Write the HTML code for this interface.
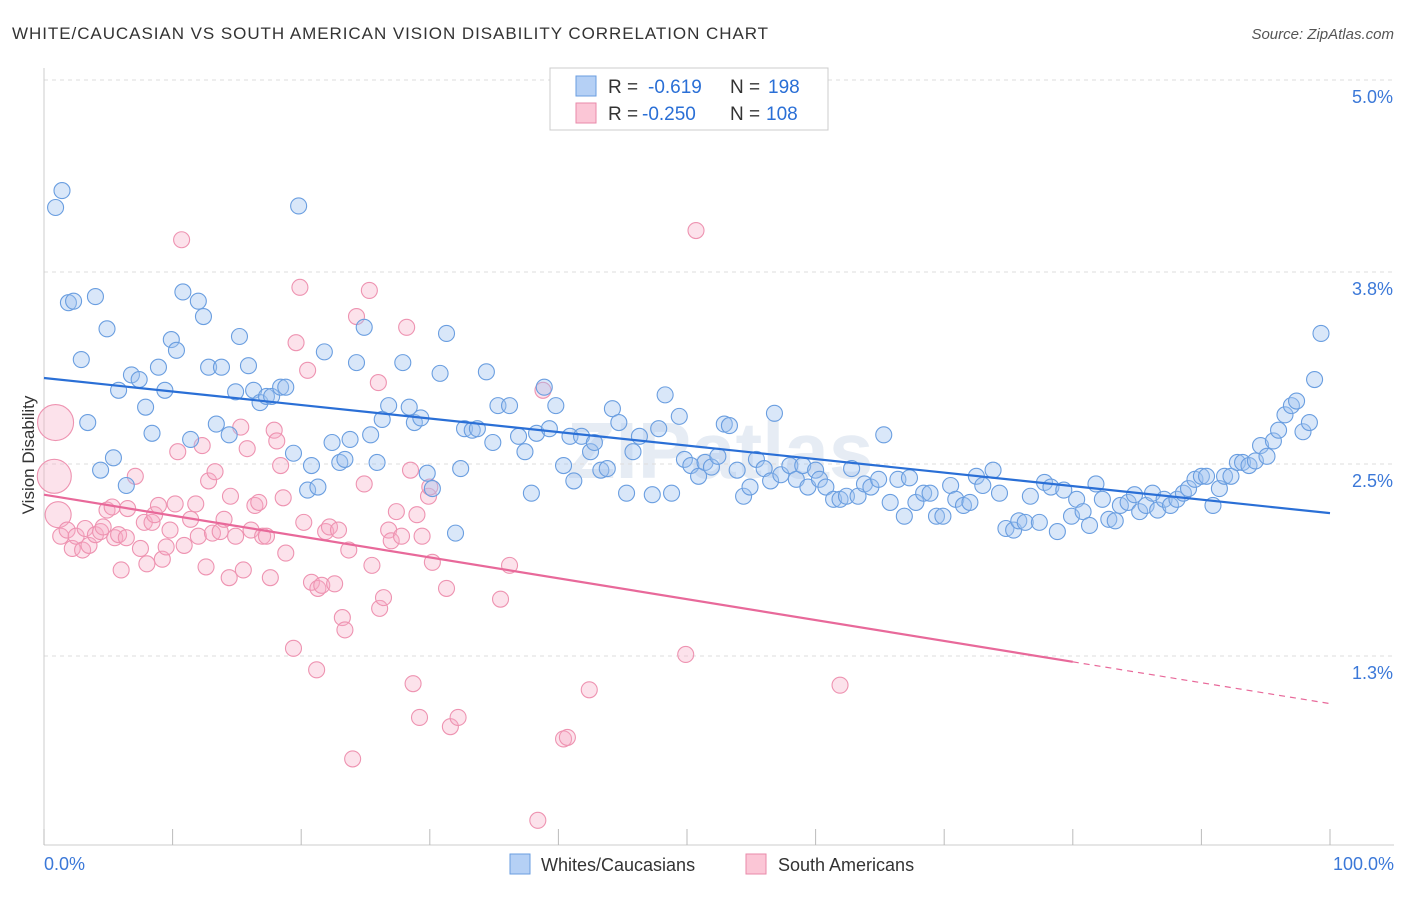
<!DOCTYPE html>
<html><head><meta charset="utf-8"><style>
body{margin:0;background:#fff;font-family:"Liberation Sans",sans-serif;}
svg text{font-family:"Liberation Sans",sans-serif;}
</style></head><body>
<svg id="chart" width="1406" height="892" xmlns="http://www.w3.org/2000/svg">
<text x="12" y="39" font-size="17" letter-spacing="0.95" fill="#333">WHITE/CAUCASIAN VS SOUTH AMERICAN VISION DISABILITY CORRELATION CHART</text>
<text x="1394" y="39" font-size="15" fill="#555" text-anchor="end" font-style="italic">Source: ZipAtlas.com</text>
<text x="34" y="455" font-size="17" fill="#333" text-anchor="middle" transform="rotate(-90 34 455)">Vision Disability</text>
<text x="720" y="478" font-size="80" fill="#e6ecf4" text-anchor="middle" font-weight="bold">ZIPatlas</text>
<g id="grid"></g><g id="pts"></g><g id="lines"></g>
<g>
<rect x="550" y="68" width="278" height="62" fill="#fff" stroke="#ccc"/>
<rect x="576" y="76" width="20" height="20" fill="#b5d0f5" stroke="#6a9ee0"/>
<rect x="576" y="103" width="20" height="20" fill="#fbc6d6" stroke="#e88aaa"/>
<text y="93" font-size="19" fill="#333"><tspan x="608">R =</tspan><tspan x="648" fill="#2a6fd6">-0.619</tspan><tspan x="730">N =</tspan><tspan x="768" fill="#2a6fd6">198</tspan></text>
<text y="120" font-size="19" fill="#333"><tspan x="608">R =</tspan><tspan x="642" fill="#2a6fd6">-0.250</tspan><tspan x="730">N =</tspan><tspan x="766" fill="#2a6fd6">108</tspan></text>
</g>
<g>
<rect x="510" y="854" width="20" height="20" fill="#b5d0f5" stroke="#6a9ee0"/>
<text x="541" y="871" font-size="18" fill="#333">Whites/Caucasians</text>
<rect x="746" y="854" width="20" height="20" fill="#fbc6d6" stroke="#e88aaa"/>
<text x="778" y="871" font-size="18" fill="#333">South Americans</text>
</g>
<text x="44" y="870" font-size="18" fill="#3b78d8">0.0%</text>
<text x="1394" y="870" font-size="18" fill="#3b78d8" text-anchor="end">100.0%</text>
</svg>
<script>
const yTicks=[5.0,3.75,2.5,1.25];
const yTickLabels=["5.0%","3.8%","2.5%","1.3%"];
const xTicks=[0,10,20,30,40,50,60,70,80,90,100];
const blueX=[1.4,0.9,1.9,2.3,4.0,4.9,2.9,3.4,4.4,6.4,5.4,5.8,6.8,7.4,7.9,8.4,8.9,9.4,9.9,10.3,10.8,11.4,12.0,12.4,12.8,13.4,13.8,14.4,14.9,15.2,15.9,16.3,16.8,17.3,17.7,18.4,18.8,19.8,19.4,20.5,20.8,21.3,21.8,22.4,23.0,23.4,23.8,24.3,24.9,25.4,25.9,26.3,26.8,27.9,28.4,28.8,29.3,29.8,30.2,30.8,31.3,32.0,32.4,32.7,33.3,33.7,34.4,34.9,35.3,36.2,36.9,37.4,37.9,38.3,38.9,39.3,39.8,40.4,40.9,41.2,41.8,42.5,42.8,43.3,43.8,44.2,44.7,45.3,45.8,46.3,47.3,47.8,48.3,48.8,49.4,49.8,50.3,50.9,51.4,51.9,52.4,52.9,53.3,53.9,54.4,54.9,55.4,56.0,56.5,56.8,57.3,58.0,58.5,59.0,59.4,60.0,60.3,60.8,61.4,61.9,62.4,62.8,63.3,63.8,64.3,64.9,65.3,65.8,66.4,66.9,67.3,67.8,68.4,68.9,69.4,69.9,70.5,70.9,71.5,72.0,72.5,73.0,73.8,74.3,74.8,75.4,75.8,76.3,76.7,77.4,77.8,78.3,78.8,79.3,79.9,80.3,80.8,81.3,81.8,82.3,82.8,83.3,83.7,84.3,84.8,85.2,85.7,86.2,86.6,87.1,87.6,88.1,88.6,89.0,89.5,90.0,90.4,90.9,91.4,91.8,92.3,92.8,93.2,93.7,94.2,94.6,95.1,95.6,96.0,96.5,97.0,97.4,97.9,98.4,98.8,99.3];
const blueY=[4.28,4.17,3.55,3.56,3.59,3.38,3.18,2.77,2.46,2.36,2.54,2.98,3.08,3.05,2.87,2.70,3.13,2.98,3.31,3.24,3.62,2.66,3.56,3.46,3.13,2.76,3.13,2.69,2.97,3.33,3.14,2.98,2.90,2.94,2.94,3.00,3.00,4.18,2.57,2.33,2.49,2.35,3.23,2.64,2.51,2.53,2.66,3.16,3.39,2.69,2.51,2.79,2.88,3.16,2.87,2.77,2.80,2.44,2.34,3.09,3.35,2.05,2.47,2.73,2.72,2.73,3.10,2.64,2.88,2.88,2.68,2.58,2.31,2.70,3.00,2.73,2.88,2.49,2.68,2.39,2.68,2.58,2.64,2.46,2.47,2.86,2.77,2.31,2.58,2.68,2.30,2.73,2.95,2.31,2.81,2.53,2.49,2.42,2.51,2.48,2.55,2.76,2.75,2.46,2.29,2.35,2.53,2.47,2.39,2.83,2.43,2.49,2.40,2.49,2.35,2.46,2.40,2.35,2.27,2.27,2.29,2.47,2.29,2.37,2.35,2.40,2.69,2.25,2.40,2.16,2.41,2.25,2.31,2.31,2.16,2.16,2.36,2.27,2.23,2.25,2.42,2.36,2.46,2.31,2.08,2.07,2.13,2.12,2.29,2.12,2.38,2.35,2.06,2.33,2.16,2.27,2.19,2.10,2.37,2.27,2.14,2.13,2.23,2.25,2.30,2.19,2.23,2.31,2.20,2.27,2.23,2.27,2.31,2.34,2.40,2.42,2.42,2.23,2.34,2.42,2.42,2.51,2.51,2.49,2.52,2.62,2.55,2.65,2.72,2.82,2.88,2.91,2.71,2.77,3.05,3.35];
const pinkX=[0.9,0.8,1.1,1.3,1.8,2.2,2.5,3.0,3.2,3.5,4.0,4.4,4.6,4.9,5.3,5.5,5.8,6.0,6.4,6.5,7.1,7.5,7.8,8.0,8.4,8.6,8.9,9.2,9.5,9.8,10.2,10.4,10.7,10.9,11.4,11.8,12.0,12.3,12.6,12.8,13.1,13.3,13.7,14.0,14.4,14.5,14.9,15.3,15.5,15.8,16.1,16.4,16.7,17.0,17.3,17.6,17.9,18.1,18.4,18.6,18.8,19.4,19.6,19.9,20.2,20.5,20.8,21.2,21.3,21.6,21.9,22.2,22.6,22.9,23.2,23.4,23.7,24.0,24.3,24.9,25.3,25.5,26.0,26.1,26.4,26.8,27.0,27.4,27.8,28.2,28.5,28.7,29.0,29.2,29.4,29.9,30.0,30.2,31.3,31.6,32.2,35.5,36.2,38.4,40.4,40.7,42.4,38.8,50.7,49.9,61.9];
const pinkY=[2.77,2.42,2.17,2.03,2.07,1.95,2.03,1.94,2.08,1.97,2.04,2.06,2.09,2.20,2.22,2.02,2.04,1.81,2.02,2.21,2.42,1.95,2.12,1.85,2.12,2.17,2.23,1.88,1.96,2.07,2.24,2.58,3.96,1.97,2.14,2.24,2.03,2.62,1.83,2.39,2.05,2.45,2.06,2.14,1.76,2.29,2.03,2.74,1.81,2.60,2.07,2.23,2.25,2.03,2.03,1.76,2.72,2.65,2.49,2.28,1.92,1.30,3.29,3.65,2.12,3.11,1.73,1.16,1.69,1.71,2.06,2.09,1.72,2.07,1.50,1.42,1.94,0.58,3.46,2.37,3.63,1.84,3.03,1.56,1.63,2.07,2.00,2.19,2.03,3.39,2.46,1.07,2.17,0.85,2.03,2.29,2.35,1.86,1.69,0.79,0.85,1.62,1.84,0.18,0.71,0.72,1.03,2.98,4.02,1.26,1.06];
const pinkSize=[18,17,13];
const blueTrend=[3.06,2.18];
const pinkTrend=[2.30,0.94];
const pinkSolidEnd=80;

const NS="http://www.w3.org/2000/svg";
const X0=44,X1=1330,Ytop=80,Ybot=845;
function xs(v){return X0+(X1-X0)*v/100;}
function ys(v){return Ytop+(5-v)*153.6;}
function mk(tag,attrs,parent){const e=document.createElementNS(NS,tag);for(const k in attrs)e.setAttribute(k,attrs[k]);parent.appendChild(e);return e;}
const grid=document.getElementById('grid');
yTicks.forEach((t,i)=>{
  const l=mk('line',{x1:X0,x2:1394,y1:ys(t),y2:ys(t),stroke:'#ddd','stroke-dasharray':'4,4'},grid);
  
  
  const tx=mk('text',{x:1393,y:ys(t)+23,'font-size':18,fill:'#3b78d8','text-anchor':'end'},grid);
  tx.textContent=yTickLabels[i];
  
  
});
const ax=mk('line',{x1:X0,x2:1394,y1:Ybot,y2:Ybot,stroke:'#ccc'},grid);


const ay=mk('line',{x1:X0,x2:X0,y1:68,y2:Ybot,stroke:'#ccc'},grid);


xTicks.forEach(t=>{
  const l=mk('line',{x1:xs(t),x2:xs(t),y1:Ybot-16,y2:Ybot,stroke:'#bbb'},grid);
  
  
});
const pts=document.getElementById('pts');
pinkX.forEach((x,i)=>{
  const c=mk('circle',{cx:xs(x),cy:ys(pinkY[i]),r:pinkSize[i]||8,fill:'rgba(247,172,197,0.35)',stroke:'#ee93b1','stroke-width':1.1},pts);
  
  
});
blueX.forEach((x,i)=>{
  const c=mk('circle',{cx:xs(x),cy:ys(blueY[i]),r:8,fill:'rgba(160,196,240,0.4)',stroke:'#6a9ee0','stroke-width':1.1},pts);
  
  
});
const lines=document.getElementById('lines');
const bl=mk('line',{x1:xs(0),y1:ys(blueTrend[0]),x2:xs(100),y2:ys(blueTrend[1]),stroke:'#2a6fd6','stroke-width':2.2},lines);


const pm=pinkTrend[0]+(pinkTrend[1]-pinkTrend[0])*pinkSolidEnd/100;
const pl=mk('line',{x1:xs(0),y1:ys(pinkTrend[0]),x2:xs(pinkSolidEnd),y2:ys(pm),stroke:'#e8699a','stroke-width':2.2},lines);


const pd=mk('line',{x1:xs(pinkSolidEnd),y1:ys(pm),x2:xs(100),y2:ys(pinkTrend[1]),stroke:'#e8699a','stroke-width':1.2,'stroke-dasharray':'6,5'},lines);


</script>
</body></html>
